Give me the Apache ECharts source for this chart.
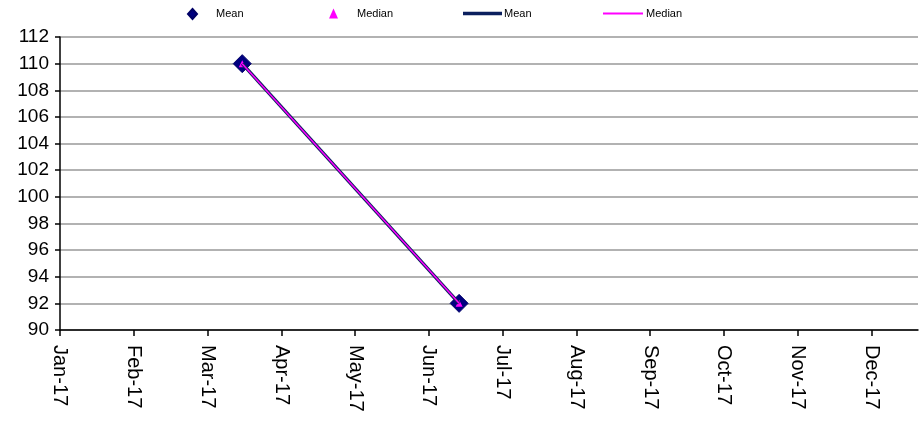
<!DOCTYPE html>
<html>
<head>
<meta charset="utf-8">
<script src="https://cdn.jsdelivr.net/npm/echarts@6/dist/echarts.min.js"></script>
<style>html,body{margin:0;padding:0;background:#fff}#c{width:920px;height:425px}</style>
</head>
<body>
<div id="c"></div>
<script>
// Month tick labels (x value = month index, 0 = Jan-17)
var monthLabels = ['Jan-17','Feb-17','Mar-17','Apr-17','May-17','Jun-17','Jul-17','Aug-17','Sep-17','Oct-17','Nov-17','Dec-17'];
// Observation positions (month index) and values
var obsX = [2.47, 5.41];
var meanValues = [110, 92];
var medianValues = [110, 92];
var yTicks = [90, 92, 94, 96, 98, 100, 102, 104, 106, 108, 110, 112];

function pairs(xs, ys){ return xs.map(function(x,i){ return [x, ys[i]]; }); }

var FONT = 'Liberation Sans, Arial, sans-serif';
var chart = echarts.init(document.getElementById('c'), null, {renderer:'canvas'});
var legendBase = {top: 3, symbolKeepAspect: true, textStyle:{fontFamily: FONT, fontSize: 11, color:'#000'}, selectedMode:false};
chart.setOption({
  animation: false,
  backgroundColor: '#fff',
  grid: {left: 60, right: 2, top: 37, bottom: 95, containLabel: false},
  legend: [
    Object.assign({}, legendBase, {left: 182, itemWidth: 9, itemHeight: 10,
      textStyle:{fontFamily: FONT, fontSize: 11, color:'#000', padding:[0,0,0,14]},
      itemStyle:{opacity:1},
      data:[{name:'Mean', icon:'diamond'}]}),
    Object.assign({}, legendBase, {left: 324, itemWidth: 9, itemHeight: 10,
      textStyle:{fontFamily: FONT, fontSize: 11, color:'#000', padding:[0,0,0,14]},
      itemStyle:{opacity:1},
      data:[{name:'Median', icon:'triangle'}]}),
    Object.assign({}, legendBase, {left: 458, itemWidth: 39, itemHeight: 3.5, symbolKeepAspect:false,
      textStyle:{fontFamily: FONT, fontSize: 11, color:'#000', padding:[0,0,0,-3]},
      data:[{name:'Mean ', icon:'rect'}]}),
    Object.assign({}, legendBase, {left: 598, itemWidth: 40, itemHeight: 2, symbolKeepAspect:false,
      textStyle:{fontFamily: FONT, fontSize: 11, color:'#000', padding:[0,0,0,-2]},
      data:[{name:'Median ', icon:'rect'}]})
  ],
  xAxis: {
    type: 'value', min: 0, max: 11.63, interval: 1,
    axisLine: {show: true, onZero:false, lineStyle: {color: '#000', width: 1.5}},
    axisTick: {show: true, length: 6, inside:false, lineStyle:{color:'#000', width:1.5}, customValues: monthLabels.map(function(_,i){return i;})},
    axisLabel: {
      rotate: -90, margin: 15, fontFamily: FONT, fontSize: 20, color: '#000',
      customValues: monthLabels.map(function(_,i){return i;}),
      formatter: function(v){ var i = Math.round(v); return monthLabels[i] || ''; }
    },
    splitLine: {show: false}
  },
  yAxis: {
    type: 'value', min: yTicks[0], max: yTicks[yTicks.length-1], interval: 2,
    axisLine: {show: true, lineStyle: {color: '#000', width: 1.5}},
    axisTick: {show: true, length: 5, lineStyle:{color:'#000', width:1.5}},
    axisLabel: {margin: 11, fontFamily: FONT, fontSize: 19, color: '#000'},
    splitLine: {show: true, lineStyle: {color: '#999', width: 1.5}}
  },
  series: [
    {name:'Mean', type:'scatter', symbol:'diamond', symbolSize:18, z:2,
     itemStyle:{color:'#000080', borderColor:'#000066', borderWidth:1, opacity:1},
     data: pairs(obsX, meanValues)},
    {name:'Median', type:'scatter', symbol:'triangle', symbolSize:7, z:3,
     itemStyle:{color:'#ff00ff', opacity:1},
     data: pairs(obsX, medianValues)},
    {name:'Mean ', type:'line', showSymbol:false, symbol:'none', z:4,
     lineStyle:{color:'#0b1f5e', width:3.5}, itemStyle:{color:'#0b1f5e'},
     data: pairs(obsX, meanValues)},
    {name:'Median ', type:'line', showSymbol:false, symbol:'none', z:5,
     lineStyle:{color:'#ff00ff', width:1.5}, itemStyle:{color:'#ff00ff'},
     data: pairs(obsX, medianValues)}
  ]
});
</script>
</body>
</html>
